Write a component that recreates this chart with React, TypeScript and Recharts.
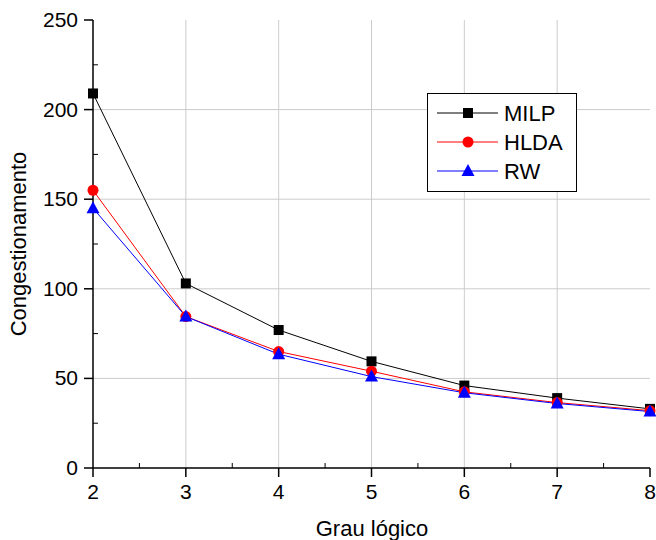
import React from 'react';
import { LineChart, Line, XAxis, YAxis, CartesianGrid } from 'recharts';

const grades = [2, 3, 4, 5, 6, 7, 8];
const milp = [209, 103, 77, 59.5, 46, 39, 33];
const hlda = [155, 84.5, 65, 54, 42.5, 36.5, 32];
const rw = [145, 84.5, 63.5, 51, 42, 36, 31.5];

const xTicks = [2, 2.5, 3, 3.5, 4, 4.5, 5, 5.5, 6, 6.5, 7, 7.5, 8];
const yTicks = [0, 25, 50, 75, 100, 125, 150, 175, 200, 225, 250];

const data = grades.map((g, i) => ({ grau: g, MILP: milp[i], HLDA: hlda[i], RW: rw[i] }));

const font = '"Liberation Sans", Arial, sans-serif';

const series = [
  { key: 'MILP', color: '#000000', shape: 'square' },
  { key: 'HLDA', color: '#ff0000', shape: 'circle' },
  { key: 'RW', color: '#0000ff', shape: 'triangle' },
];

function Marker({ cx, cy, shape, color }: any) {
  if (cx == null || cy == null) return null;
  if (shape === 'square') return <rect x={cx - 5} y={cy - 5} width={10} height={10} fill={color} />;
  if (shape === 'circle') return <circle cx={cx} cy={cy} r={5.5} fill={color} />;
  return <polygon points={`${cx},${cy - 7} ${cx - 6.5},${cy + 5} ${cx + 6.5},${cy + 5}`} fill={color} />;
}

function YTick({ x, y, payload }: any) {
  const major = payload.value % 50 === 0;
  if (!major) return <line x1={x} x2={x + 5} y1={y} y2={y} stroke="#000" strokeWidth={1} />;
  return (
    <g>
      <line x1={x - 9} x2={x} y1={y} y2={y} stroke="#000" strokeWidth={1.5} />
      <text x={x - 15} y={y + 7} textAnchor="end" fontSize={21} fontFamily={font} fill="#000">
        {payload.value}
      </text>
    </g>
  );
}

function XTick({ x, y, payload }: any) {
  const major = Number.isInteger(payload.value);
  if (!major) return <line x1={x} x2={x} y1={y} y2={y - 5} stroke="#000" strokeWidth={1} />;
  return (
    <g>
      <line x1={x} x2={x} y1={y} y2={y + 9} stroke="#000" strokeWidth={1.5} />
      <text x={x} y={y + 31} textAnchor="middle" fontSize={21} fontFamily={font} fill="#000">
        {payload.value}
      </text>
    </g>
  );
}

function LegendBox() {
  return (
    <div style={{ position: 'absolute', left: 427, top: 93, width: 150, height: 99, border: '1.5px solid #000', background: '#fff', boxSizing: 'border-box' }}>
      <svg width={147} height={96} style={{ display: 'block' }}>
        {series.map((s, i) => {
          const cy = 19 + i * 29;
          return (
            <g key={s.key}>
              <line x1={9} x2={70} y1={cy} y2={cy} stroke={s.color} strokeWidth={1} />
              <Marker cx={40} cy={cy} shape={s.shape} color={s.color} />
              <text x={76} y={cy + 8} fontSize={22} fontFamily={font} fill="#000">{s.key}</text>
            </g>
          );
        })}
      </svg>
    </div>
  );
}

export default function App() {
  return (
    <div style={{ position: 'absolute', left: 0, top: 0, width: 656, height: 540, background: '#fff' }}>
      <LineChart width={656} height={540} data={data} margin={{ top: 20, right: 6, bottom: 0, left: 0 }}>
        <CartesianGrid stroke="#cccccc" strokeWidth={1} horizontalValues={[50, 100, 150, 200]} verticalValues={[3, 4, 5, 6, 7]} />
        <XAxis
          xAxisId="top"
          orientation="top"
          type="number"
          dataKey="grau"
          domain={[2, 8]}
          tick={false}
          tickLine={false}
          axisLine={{ stroke: '#000', strokeWidth: 1.5 }}
          height={0}
        />
        <YAxis
          yAxisId="right"
          orientation="right"
          type="number"
          domain={[0, 250]}
          tick={false}
          tickLine={false}
          axisLine={{ stroke: '#000', strokeWidth: 1.5 }}
          width={0}
        />
        <XAxis
          type="number"
          dataKey="grau"
          domain={[2, 8]}
          ticks={xTicks}
          interval={0}
          tickSize={0}
          tickMargin={0}
          tickLine={false}
          tick={<XTick />}
          axisLine={{ stroke: '#000', strokeWidth: 1.5 }}
          height={72}
          label={{
            content: () => (
              <text x={372} y={536} textAnchor="middle" fontSize={22} fontFamily={font} fill="#000">Grau lógico</text>
            ),
          }}
        />
        <YAxis
          type="number"
          domain={[0, 250]}
          ticks={yTicks}
          interval={0}
          tickSize={0}
          tickMargin={0}
          tickLine={false}
          tick={<YTick />}
          axisLine={{ stroke: '#000', strokeWidth: 1.5 }}
          width={93}
          label={{
            content: () => (
              <text x={26} y={244} transform="rotate(-90 26 244)" textAnchor="middle" fontSize={22} fontFamily={font} fill="#000">Congestionamento</text>
            ),
          }}
        />
        {series.map((s) => (
          <Line
            key={s.key}
            type="linear"
            dataKey={s.key}
            stroke={s.color}
            strokeWidth={1}
            isAnimationActive={false}
            dot={(p: any) => <Marker key={`${s.key}-${p.index}`} cx={p.cx} cy={p.cy} shape={s.shape} color={s.color} />}
            activeDot={false}
          />
        ))}
      </LineChart>
      <LegendBox />
    </div>
  );
}
